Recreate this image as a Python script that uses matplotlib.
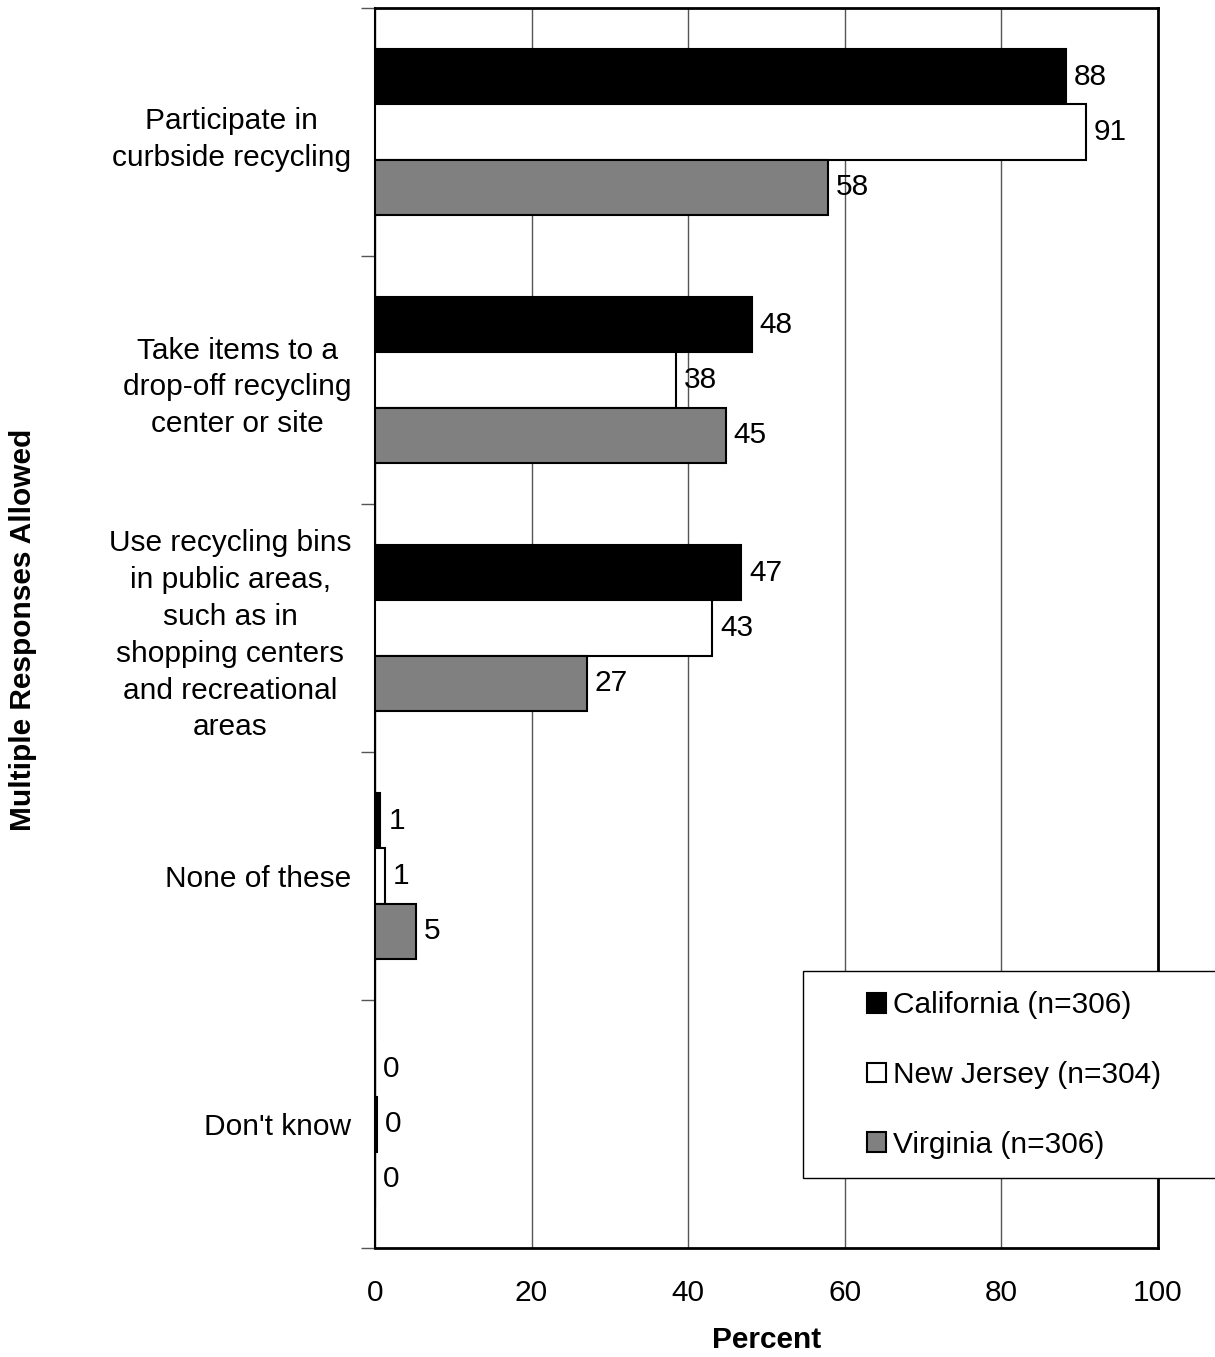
import matplotlib
matplotlib.use("Agg")
import matplotlib.pyplot as plt
from matplotlib.patches import Rectangle
import numpy as np

# ── Data ───────────────────────────────────────────────
categories = [
    "Participate in\ncurbside recycling",
    "Take items to a\ndrop-off recycling\ncenter or site",
    "Use recycling bins\nin public areas,\nsuch as in\nshopping centers\nand recreational\nareas",
    "None of these",
    "Don't know",
]
series_names = ["California (n=306)", "New Jersey (n=304)", "Virginia (n=306)"]
california = [88.3, 48.1, 46.8, 0.7, 0.0]
new_jersey = [90.8, 38.4, 43.1, 1.3, 0.3]
virginia = [57.9, 44.8, 27.1, 5.2, 0.0]
x_ticks = [0, 20, 40, 60, 80, 100]

# ── Style ──────────────────────────────────────────────
FONT = ["Liberation Sans", "DejaVu Sans"]
FS = 21.5
plt.rcParams.update({
    "font.family": FONT,
    "font.size": FS,
    "axes.linewidth": 2,
})
colors = ["#000000", "#ffffff", "#808080"]
BAR_H = 0.222
offsets = [-0.223, 0.0, 0.222]

fig = plt.figure(figsize=(12.15, 13.57), dpi=100)
ax = fig.add_axes([0.3086, 0.0803, 0.953 - 0.3086, 0.9941 - 0.0803])

y = np.arange(len(categories))
for vals, col, off, name in zip([california, new_jersey, virginia], colors, offsets, series_names):
    bars = ax.barh(y + off, vals, height=BAR_H, color=col, edgecolor="black",
                   linewidth=1.5, label=name, zorder=3)
    for b, v in zip(bars, vals):
        ax.text(b.get_width() + 1.0, b.get_y() + b.get_height() / 2, f"{v:.0f}",
                va="center", ha="left", fontsize=FS, zorder=4)

ax.set_xlim(0, 100)
ax.set_ylim(len(categories) - 0.5, -0.5)
ax.set_xticks(x_ticks)
ax.tick_params(axis="x", length=0, pad=22, labelsize=FS)
ax.grid(True, axis="x", color="#555555", linewidth=1, zorder=0)

# group boundaries as ticks, labels centred between them
ax.set_yticks(np.arange(-0.5, len(categories)), minor=False)
ax.set_yticklabels([])
ax.tick_params(axis="y", which="major", length=10, width=1, direction="out", color="#555555")
ax.set_yticks(y, minor=True)
ax.set_yticklabels(categories, minor=True, multialignment="center", fontsize=FS, linespacing=1.4)
ax.tick_params(axis="y", which="minor", length=0, pad=17)

for s in ax.spines.values():
    s.set_color("black")
ax.spines["left"].set_linewidth(1.5)

ax.set_xlabel("Percent", fontweight="bold", fontsize=FS, labelpad=14)
fig.text(0.019, 0.536, "Multiple Responses Allowed", rotation=90, fontweight="bold",
         fontsize=FS, ha="center", va="center")

# legend box runs off the right edge, as in the original
frame = Rectangle((0.6609, 0.1319), 0.4, 0.1525, transform=fig.transFigure,
                  facecolor="white", edgecolor="black", linewidth=1, zorder=5, clip_on=False)
ax.add_patch(frame)
leg = ax.legend(loc="center left", bbox_to_anchor=(867 / 1215, 1 - 1075 / 1357),
                bbox_transform=fig.transFigure, frameon=False,
                handlelength=0.65, handleheight=0.65, handletextpad=0.23,
                labelspacing=1.4, borderpad=0, borderaxespad=0, fontsize=FS)
leg.set_zorder(6)

fig.savefig("out.png", dpi=100)
